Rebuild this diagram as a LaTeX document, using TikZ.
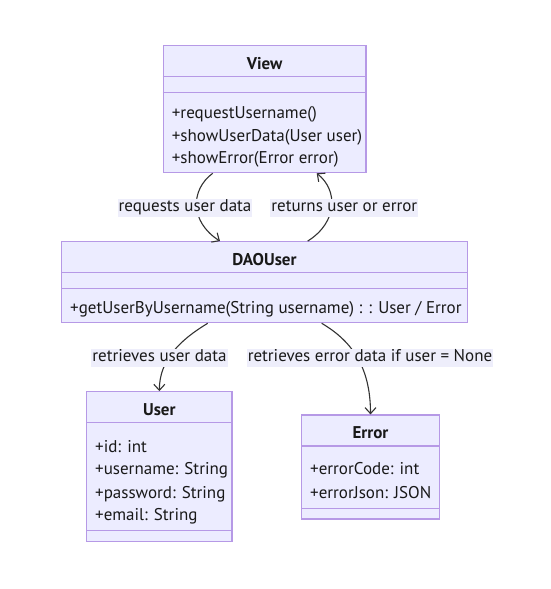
\documentclass[tikz,border=0pt]{standalone}
\usepackage{fontspec}
\setmainfont{PT Sans}
\usetikzlibrary{arrows.meta}

\definecolor{boxfill}{HTML}{ECECFF}
\definecolor{boxline}{HTML}{B699E6}
\definecolor{edgeline}{HTML}{333333}
\definecolor{lblfill}{HTML}{EEEEFB}

\tikzset{
  classbox/.style={draw=boxline, fill=boxfill, line width=1.2pt, rectangle, inner sep=0pt},
  classname/.style={font=\fontsize{17}{20}\selectfont\bfseries, text=black!90, inner sep=0pt},
  member/.style={anchor=west, font=\fontsize{17}{20}\selectfont, text=black!90, inner sep=0pt, text height=15pt, text depth=1pt},
  divider/.style={draw=boxline, line width=1.2pt},
  dep/.style={draw=edgeline, line width=1.1pt, -{Straight Barb[length=6pt,width=11pt]}},
  elabel/.style={fill=lblfill, font=\fontsize{17}{20}\selectfont, text=black!90, inner xsep=1pt, inner ysep=0pt, text height=13pt, text depth=5pt}
}

\begin{document}
\begin{tikzpicture}[x=1pt,y=1pt,yscale=-1,xscale=1]
\useasboundingbox (0,0) rectangle (551,589);

% Class boxes
\node[classbox, minimum width=202.7pt, minimum height=127pt] (view) at (264.65,109.2) {};
\node[classbox, minimum width=405.6pt, minimum height=81pt] (dao) at (264.5,282.2) {};
\node[classbox, minimum width=145.3pt, minimum height=150pt] (user) at (159.35,466.7) {};
\node[classbox, minimum width=137.6pt, minimum height=104pt] (error) at (370.5,467) {};

% Dividers
\draw[divider] (view.west |- 0,76.7) -- (view.east |- 0,76.7);
\draw[divider] (view.west |- 0,92.7) -- (view.east |- 0,92.7);
\draw[divider] (dao.west |- 0,272.7) -- (dao.east |- 0,272.7);
\draw[divider] (dao.west |- 0,288.3) -- (dao.east |- 0,288.3);
\draw[divider] (user.west |- 0,422.7) -- (user.east |- 0,422.7);
\draw[divider] (user.west |- 0,530.7) -- (user.east |- 0,530.7);
\draw[divider] (error.west |- 0,446) -- (error.east |- 0,446);
\draw[divider] (error.west |- 0,508.3) -- (error.east |- 0,508.3);

% View
\node[classname] (viewname) at (264.65,63.3) {View};
\node[member] (viewm1) at (171.7,111) {+requestUsername()};
\node[member] (viewm2) at (171.7,134.3) {+showUserData(User user)};
\node[member] (viewm3) at (171.7,156.7) {+showError(Error error)};

% DAOUser
\node[classname] (daoname) at (264.5,260) {DAOUser};
\node[member] (daom1) at (70,306.7) {+getUserByUsername(String username) : : User / Error};

% User
\node[classname] (username) at (159.35,409.3) {User};
\node[member] (usera1) at (95,445) {+id: int};
\node[member] (usera2) at (95,467.7) {+username: String};
\node[member] (usera3) at (95,491) {+password: String};
\node[member] (usera4) at (95,513.3) {+email: String};

% Error
\node[classname] (errorname) at (370.5,432.7) {Error};
\node[member] (errora1) at (310,467.7) {+errorCode: int};
\node[member] (errora2) at (310,491) {+errorJson: JSON};

% Connectors
\draw[dep] ([xshift=-51.95pt]view.south) .. controls (190,190) and (190,222) .. ([xshift=-44.5pt]dao.north);
\draw[dep] ([xshift=43.2pt]dao.north) .. controls (338,222) and (338,190) .. ([xshift=52.05pt]view.south);
\draw[dep] ([xshift=-56.8pt]dao.south) .. controls (180,340) and (159.3,360) .. (user.north);
\draw[dep] ([xshift=57.2pt]dao.south) .. controls (350,340) and (370.5,365) .. (error.north);

% Text Node
\node[elabel] (lblreq) at (185,207.5) {requests user data};
\node[elabel] (lblret) at (344.3,207.5) {returns user or error};
\node[elabel] (lbluser) at (159.5,357.5) {retrieves user data};
\node[elabel] (lblerr) at (370,357.5) {retrieves error data if user = None};

\end{tikzpicture}
\end{document}
